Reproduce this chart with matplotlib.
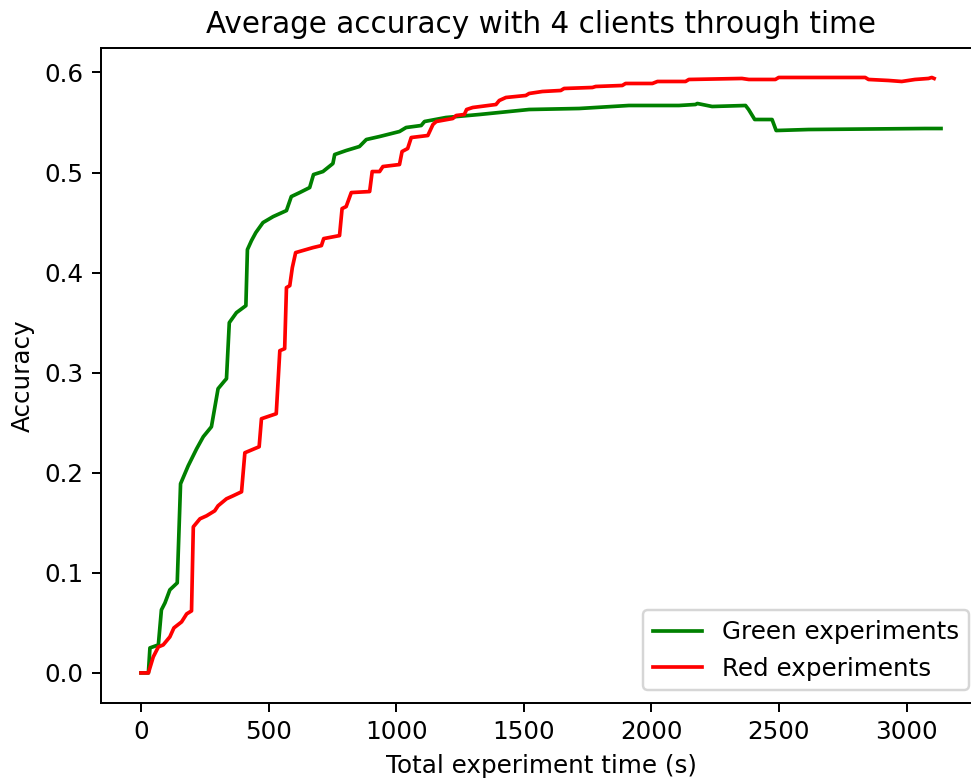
import matplotlib
matplotlib.use("Agg")
import matplotlib.pyplot as plt

# Average accuracy over time (seconds) for each experiment group
green_time = [0, 29, 35, 68, 80, 94, 113, 142, 155, 185, 218, 244, 276, 289, 302, 328,
              335, 346, 374, 411, 417, 433, 450, 478, 518, 570, 589, 622, 661, 676, 713,
              752, 759, 804, 856, 883, 935, 1013, 1039, 1098, 1111, 1195, 1326, 1521,
              1717, 1912, 2108, 2173, 2180, 2238, 2369, 2381, 2405, 2473, 2489, 2616,
              3072, 3135]
green_acc = [0, 0, 0.025, 0.028, 0.063, 0.07, 0.083, 0.09, 0.189, 0.207, 0.224, 0.236,
             0.246, 0.265, 0.284, 0.292, 0.294, 0.350, 0.360, 0.367, 0.423, 0.432, 0.44,
             0.45, 0.456, 0.462, 0.476, 0.480, 0.485, 0.498, 0.501, 0.509, 0.518, 0.522,
             0.526, 0.533, 0.536, 0.541, 0.545, 0.547, 0.551, 0.555, 0.558, 0.563, 0.564,
             0.567, 0.567, 0.568, 0.569, 0.566, 0.567, 0.563, 0.553, 0.553, 0.542, 0.543,
             0.544, 0.544]

red_time = [0, 29, 48, 68, 87, 113, 129, 159, 179, 198, 205, 231, 257, 289, 302, 335,
            361, 394, 407, 463, 472, 530, 544, 563, 570, 583, 593, 606, 674, 707, 716,
            778, 788, 804, 824, 896, 906, 935, 948, 1013, 1023, 1045, 1059, 1124, 1144,
            1157, 1222, 1235, 1267, 1276, 1300, 1391, 1404, 1430, 1508, 1521, 1573, 1645,
            1658, 1769, 1782, 1886, 1899, 2004, 2024, 2134, 2147, 2355, 2382, 2486, 2499,
            2838, 2851, 2929, 2981, 3033, 3086, 3099, 3108]
red_acc = [0, 0, 0.016, 0.026, 0.028, 0.036, 0.045, 0.051, 0.059, 0.062, 0.146, 0.154,
           0.157, 0.162, 0.167, 0.174, 0.177, 0.181, 0.220, 0.226, 0.254, 0.259, 0.322,
           0.324, 0.385, 0.387, 0.405, 0.420, 0.425, 0.427, 0.434, 0.437, 0.464, 0.466,
           0.480, 0.481, 0.501, 0.501, 0.506, 0.508, 0.521, 0.524, 0.535, 0.537, 0.548,
           0.551, 0.554, 0.557, 0.558, 0.563, 0.565, 0.568, 0.572, 0.575, 0.577, 0.579,
           0.581, 0.582, 0.584, 0.585, 0.586, 0.587, 0.589, 0.589, 0.591, 0.591, 0.593,
           0.594, 0.593, 0.593, 0.595, 0.595, 0.593, 0.592, 0.591, 0.593, 0.594, 0.595,
           0.594]

W, H, DPI = 971, 780, 177
fig = plt.figure(figsize=(W / DPI, H / DPI), dpi=DPI)
ax = fig.add_axes([101 / W, 77.3 / H, 880 / W, 655 / H])

ax.plot(green_time, green_acc, color="green", label="Green experiments")
ax.plot(red_time, red_acc, color="red", label="Red experiments")

ax.set_title("Average accuracy with 4 clients through time")
ax.set_xlabel("Total experiment time (s)")
ax.set_ylabel("Accuracy")
ax.legend(loc="lower right")
# the axes run past the right edge of the canvas
ax.spines["right"].set_visible(False)

fig.savefig("out.png", dpi=DPI)
